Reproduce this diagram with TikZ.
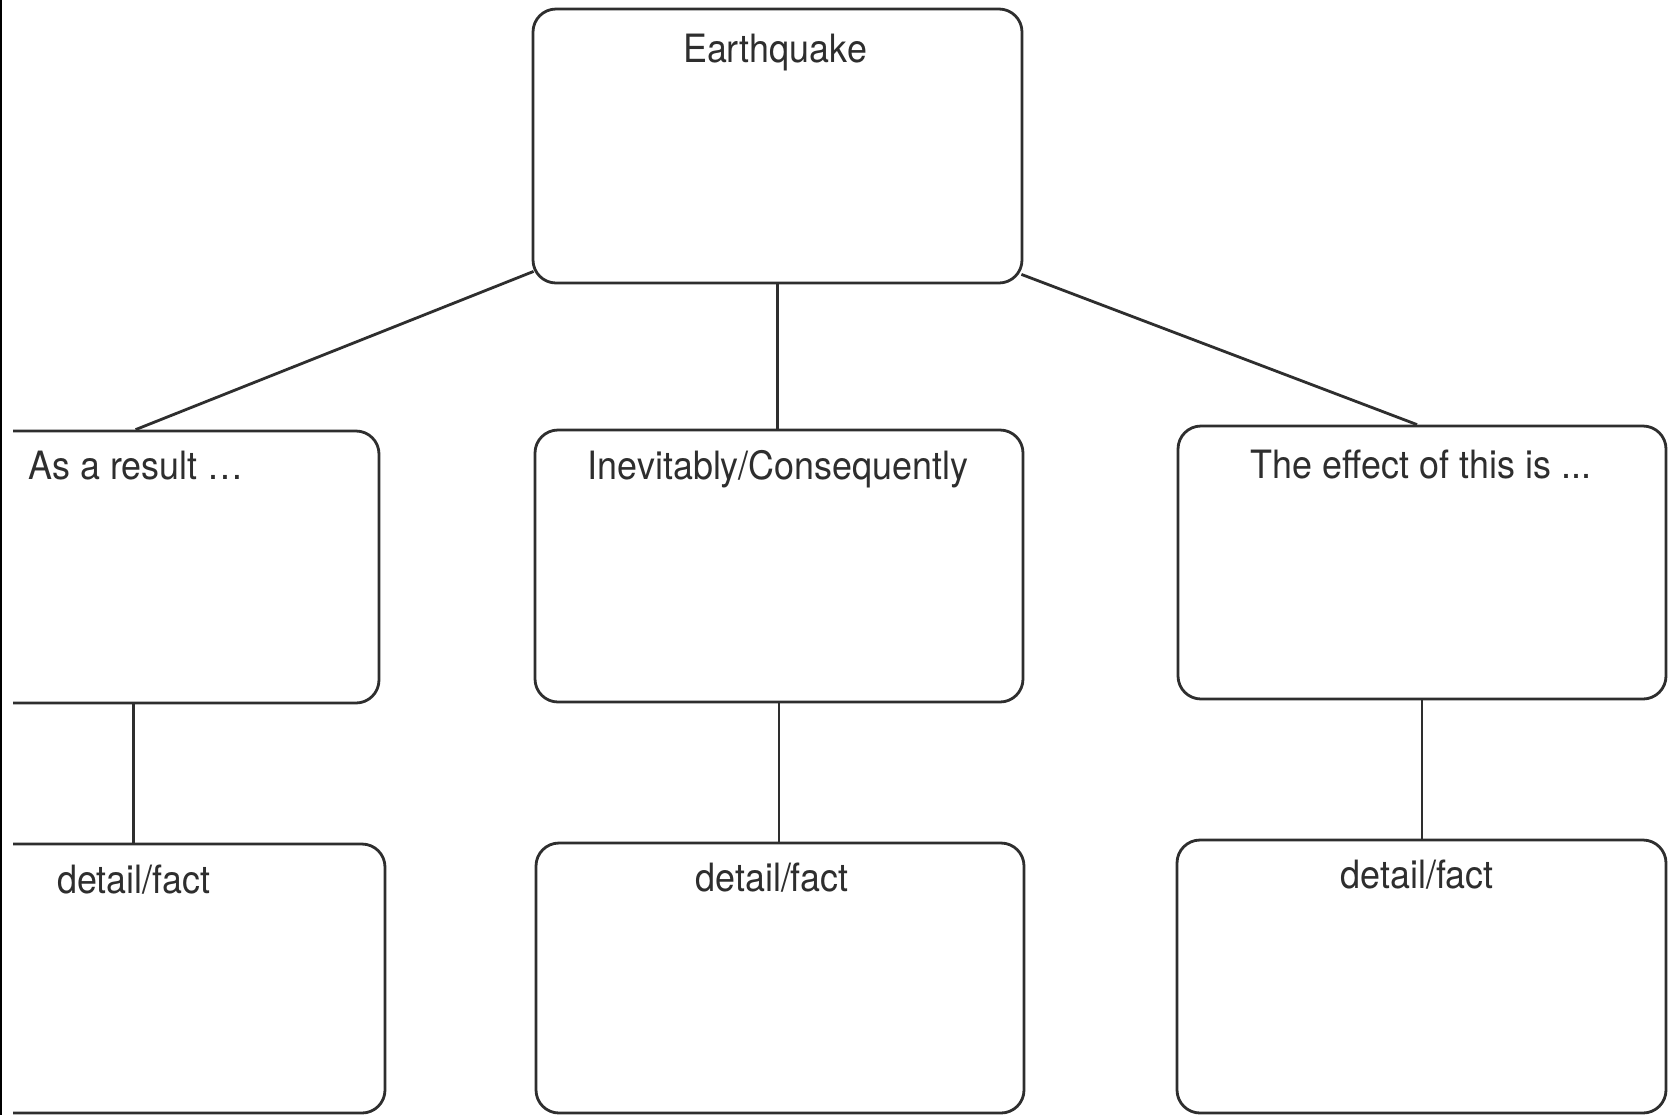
\documentclass[tikz,border=0pt]{standalone}
\usepackage{fontspec}
\setmainfont{TeX Gyre Heros}[FakeStretch=0.92]
\usetikzlibrary{calc}
\definecolor{ink}{HTML}{2E2E2E}
\tikzset{
  box/.style={draw=ink, line width=1.4pt, rounded corners=11.5pt, rectangle,
    inner sep=0pt, fill=none},
  lbl/.style={text=ink, inner sep=0pt, anchor=base, font=\fontsize{19.5}{22}\selectfont},
  link/.style={draw=ink, line width=1.4pt},
}
\begin{document}
\begin{tikzpicture}[x=0.5pt, y=-0.5pt]
  \useasboundingbox[fill=white] (0,0) rectangle (1669,1115);
  % thin dark rule along the left margin
  \fill[black] (0,0) rectangle (1.6,1115);

  % top box
  \node[box, minimum width=244.5pt, minimum height=137pt] (eq) at (777.5,146) {};
  \node[lbl] (eqt) at (775,62) {Earthquake};

  % left column, running off the left margin
  \begin{scope}
    \clip (13,0) rectangle (1669,1115);
    \node[box, minimum width=199.5pt, minimum height=136pt] (res) at (179.5,567) {};
    \node[box, minimum width=202.5pt, minimum height=134.5pt] (d1) at (182.5,978.5) {};
  \end{scope}
  \node[lbl, anchor=base west] (rest) at (28,479) {As a result …};
  \node[lbl, anchor=base west] (d1t) at (57,893) {detail/fact};

  % middle column
  \node[box, minimum width=244pt, minimum height=136pt] (mid) at (779,566) {};
  \node[lbl] (midt) at (778,479) {Inevitably/Consequently};
  \node[box, minimum width=244pt, minimum height=135pt] (d2) at (780,978) {};
  \node[lbl] (d2t) at (772,891) {detail/fact};

  % right column
  \node[box, minimum width=244pt, minimum height=136.5pt] (eff) at (1422,562.5) {};
  \node[lbl] (efft) at (1421,478) {The effect of this is ...};
  \node[box, minimum width=244.5pt, minimum height=136.5pt] (d3) at (1421.5,976.5) {};
  \node[lbl] (d3t) at (1417,888) {detail/fact};

  % connectors
  \coordinate (eqL) at ($(eq.south west)+(2,-13)$);
  \coordinate (eqR) at ($(eq.south east)+(-2,-10)$);
  \coordinate (resTop) at ($(res.north west)+(157,0)$);
  \coordinate (resBot) at ($(res.south west)+(155,0)$);
  \draw[link] (eqL) -- (resTop);
  \draw[link] (eq.south) -- (eq.south |- mid.north);
  \draw[link] (eqR) -- ($(eff.north)+(-5,0)$);
  \draw[link] (resBot) -- (resBot |- d1.north);
  \draw[link] (mid.south) -- (mid.south |- d2.north);
  \draw[link] (eff.south) -- (eff.south |- d3.north);
\end{tikzpicture}
\end{document}
